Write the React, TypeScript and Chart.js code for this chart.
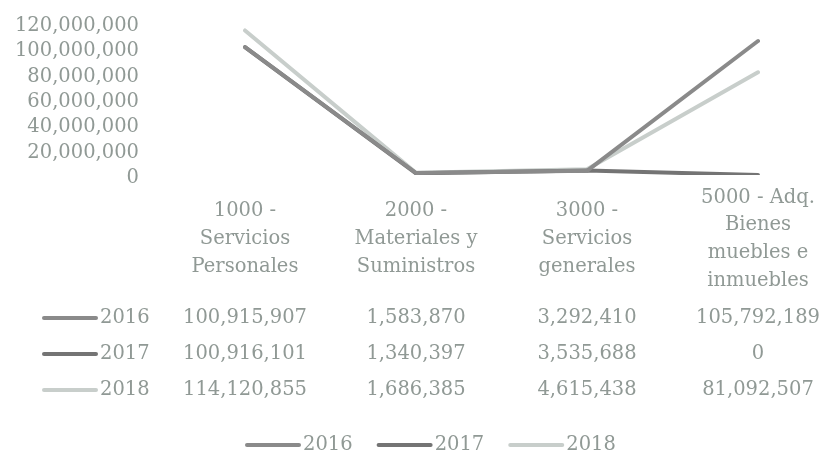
import React, { useEffect, useRef } from "react";
import { Chart, registerables } from "chart.js";

Chart.register(...registerables);

// ---- data ----
const categories: string[][] = [
  ["1000 -", "Servicios", "Personales"],
  ["2000 -", "Materiales y", "Suministros"],
  ["3000 -", "Servicios", "generales"],
  ["5000 - Adq.", "Bienes", "muebles e", "inmuebles"],
];
const seriesNames = ["2016", "2017", "2018"];
const values2016 = [100915907, 1583870, 3292410, 105792189];
const values2017 = [100916101, 1340397, 3535688, 0];
const values2018 = [114120855, 1686385, 4615438, 81092507];
const yTickMin = 0;
const yTickMax = 120000000;
const yTickStep = 20000000;

// ---- styles ----
const FONT_FAMILY = "'DejaVu Serif', serif";
const FONT_SIZE = 19.5;
const TEXT_COLOR = "#909995";
const COLORS = ["#8a8a8a", "#747474", "#c8cecb"];
const LINE_W = 4;

const fmt = (v: number) => v.toLocaleString("en-US");

const tablePlugin = {
  id: "dataTable",
  afterDraw(chart: any) {
    const ctx: CanvasRenderingContext2D = chart.ctx;
    const xs = chart.scales.x;
    ctx.save();
    ctx.font = `${FONT_SIZE}px ${FONT_FAMILY}`;
    ctx.fillStyle = TEXT_COLOR;
    ctx.textBaseline = "middle";

    // category headers
    const headerCenter = 239;
    const lineH = 27.7;
    ctx.textAlign = "center";
    categories.forEach((lines, i) => {
      const px = xs.getPixelForValue(i);
      const n = lines.length;
      lines.forEach((l, j) => {
        ctx.fillText(l, px, headerCenter + (j - (n - 1) / 2) * lineH);
      });
    });

    // table rows
    const rowY0 = 318;
    const rowH = 36;
    chart.data.datasets.forEach((ds: any, r: number) => {
      const y = rowY0 + r * rowH;
      ctx.strokeStyle = ds.borderColor;
      ctx.lineWidth = LINE_W;
      ctx.lineCap = "round";
      ctx.beginPath();
      ctx.moveTo(44, y);
      ctx.lineTo(96, y);
      ctx.stroke();
      ctx.textAlign = "left";
      ctx.fillText(ds.label, 100, y);
      ctx.textAlign = "center";
      ds.data.forEach((v: number, i: number) => {
        ctx.fillText(fmt(v), xs.getPixelForValue(i), y);
      });
    });

    // legend
    const legY = 445;
    let lx = 245;
    ctx.textAlign = "left";
    chart.data.datasets.forEach((ds: any) => {
      ctx.strokeStyle = ds.borderColor;
      ctx.lineWidth = LINE_W;
      ctx.lineCap = "round";
      ctx.beginPath();
      ctx.moveTo(lx + 2, legY);
      ctx.lineTo(lx + 54, legY);
      ctx.stroke();
      ctx.fillText(ds.label, lx + 58, legY);
      const tw = ctx.measureText(ds.label).width;
      lx += 58 + tw + 24;
    });
    ctx.restore();
  },
};

export default function App() {
  const ref = useRef<HTMLCanvasElement | null>(null);

  useEffect(() => {
    if (!ref.current) return;
    const allSeries = [values2016, values2017, values2018];
    const chart = new Chart(ref.current, {
      type: "line",
      data: {
        labels: categories.map((c) => c.join(" ")),
        datasets: seriesNames.map((name, i) => ({
          label: name,
          data: allSeries[i],
          borderColor: COLORS[i],
          backgroundColor: COLORS[i],
          borderWidth: LINE_W,
          borderCapStyle: "round" as const,
          borderJoinStyle: "round" as const,
          pointRadius: 0,
          tension: 0,
        })),
      },
      options: {
        responsive: false,
        animation: false,
        layout: { padding: { top: 23, bottom: 278, left: 0, right: 66 } },
        plugins: {
          legend: { display: false },
          tooltip: { enabled: false },
        },
        scales: {
          x: {
            display: false,
            offset: false,
          },
          y: {
            min: yTickMin,
            max: yTickMax,
            afterFit: (scale: any) => {
              scale.width = 245;
              scale.paddingTop = 0;
              scale.paddingBottom = 0;
            },
            grid: { display: false, drawTicks: false },
            border: { display: false },
            ticks: {
              stepSize: yTickStep,
              autoSkip: false,
              padding: 106,
              labelOffset: 3,
              color: TEXT_COLOR,
              font: { family: FONT_FAMILY, size: FONT_SIZE },
              callback: (v: any) => fmt(Number(v)),
            },
          },
        },
      },
      plugins: [tablePlugin],
    });
    return () => chart.destroy();
  }, []);

  return (
    <div style={{ position: "absolute", left: 0, top: 0, width: 824, height: 453, overflow: "hidden", background: "#ffffff" }}>
      <canvas ref={ref} width={824} height={453} style={{ display: "block" }} />
    </div>
  );
}
